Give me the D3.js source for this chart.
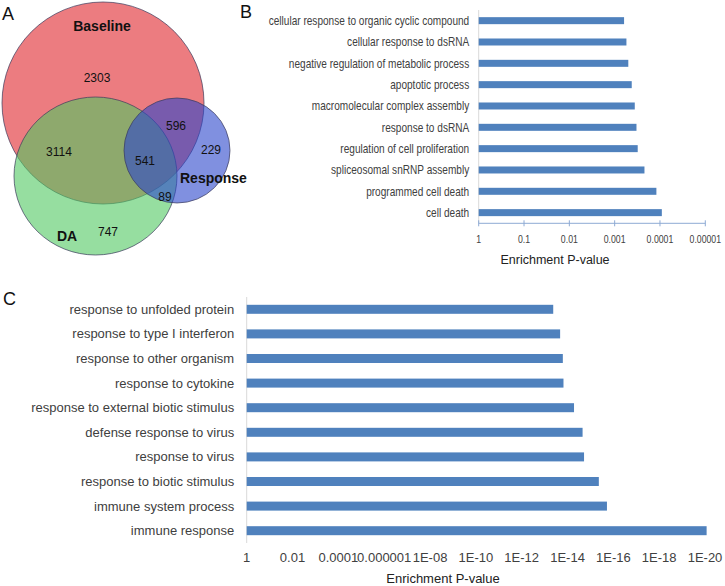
<!DOCTYPE html>
<html>
<head>
<meta charset="utf-8">
<script src="https://cdn.jsdelivr.net/npm/d3@7"></script>
<style>
  body { margin: 0; background: #fff; }
  svg { font-family: "Liberation Sans", Arial, sans-serif; }
</style>
</head>
<body>
<script>
// Venn counts
const vennSets = ["Baseline", "DA", "Response"];
const vennCounts = [
    { region: "Baseline only", value: 2303 },
    { region: "Baseline+DA", value: 3114 },
    { region: "Baseline+Response", value: 596 },
    { region: "Response only", value: 229 },
    { region: "all", value: 541 },
    { region: "DA+Response", value: 89 },
    { region: "DA only", value: 747 }
];

// Panel B terms and p-values
const termsB = [
    "cellular response to organic cyclic compound",
    "cellular response to dsRNA",
    "negative regulation of metabolic process",
    "apoptotic process",
    "macromolecular complex assembly",
    "response to dsRNA",
    "regulation of cell proliferation",
    "spliceosomal snRNP assembly",
    "programmed cell death",
    "cell death"
];
const pValuesB = [6.2e-4, 5.5e-4, 5.0e-4, 4.2e-4, 3.6e-4, 3.3e-4, 3.1e-4, 2.2e-4, 1.2e-4, 9.1e-5];
const ticksB = [1, 0.1, 0.01, 0.001, 0.0001, 0.00001];
const tickLabelsB = ["1", "0.1", "0.01", "0.001", "0.0001", "0.00001"];

// Panel C terms and p-values
const termsC = [
    "response to unfolded protein",
    "response to type I interferon",
    "response to other organism",
    "response to cytokine",
    "response to external biotic stimulus",
    "defense response to virus",
    "response to virus",
    "response to biotic stimulus",
    "immune system process",
    "immune response"
];
const pValuesC = [4.2e-14, 2.1e-14, 1.6e-14, 1.5e-14, 5.2e-15, 2.2e-15, 1.9e-15, 4.3e-16, 1.9e-16, 8.5e-21];
const ticksC = [1, 1e-2, 1e-4, 1e-6, 1e-8, 1e-10, 1e-12, 1e-14, 1e-16, 1e-18, 1e-20];
const tickLabelsC = ["1", "0.01", "0.0001", "0.000001", "1E-08", "1E-10", "1E-12", "1E-14", "1E-16", "1E-18", "1E-20"];

const BAR_COLOR = "#4f81bd";
const TEXT_COLOR = "#404040";

const svg = d3.select("body").append("svg")
    .attr("width", 725)
    .attr("height", 586);

drawVenn();
drawBarPanel({
    terms: termsB, values: pValuesB, ticks: ticksB, tickLabels: tickLabelsB,
    x0: 478.7, x1: 705.3, y0: 10, y1: 223.3, barH: 7, labelGap: 9.5,
    labelSize: 12, squeeze: 0.84, tickSize: 11.5, tickSqueeze: 0.76,
    tickY: 243, titleX: 555, titleY: 264, titleSize: 12.5,
    showXAxis: true
});
drawBarPanel({
    terms: termsC, values: pValuesC, ticks: ticksC, tickLabels: tickLabelsC,
    x0: 246.7, x1: 705, y0: 297, y1: 543, barH: 9, labelGap: 12.5,
    labelSize: 13, squeeze: 1, tickSize: 13, tickSqueeze: 1,
    tickY: 561.5, titleX: 443, titleY: 583, titleSize: 13,
    showXAxis: false
});

// panel letters
svg.selectAll("text.panel")
    .data([["A", 2, 20], ["B", 240, 18], ["C", 3, 305]])
    .enter()
    .append("text")
    .attr("class", "panel")
    .attr("x", (d) => d[1])
    .attr("y", (d) => d[2])
    .attr("font-size", 18)
    .attr("fill", "#111")
    .text((d) => d[0]);

function drawVenn() {
    const g = svg.append("g");
    const shapes = [
        { name: vennSets[0], cx: 103, cy: 103, rx: 101, ry: 101, fill: "rgb(223,37,43)" },
        { name: vennSets[1], cx: 95.5, cy: 176, rx: 81.5, ry: 79, fill: "rgb(80,200,97)" },
        { name: vennSets[2], cx: 177, cy: 150.5, rx: 53, ry: 52.5, fill: "rgb(43,70,203)" }
    ];
    g.selectAll("ellipse")
        .data(shapes)
        .enter()
        .append("ellipse")
        .attr("cx", (d) => d.cx)
        .attr("cy", (d) => d.cy)
        .attr("rx", (d) => d.rx)
        .attr("ry", (d) => d.ry)
        .attr("fill", (d) => d.fill)
        .attr("fill-opacity", 0.6)
        .attr("stroke", "#3a3a5a")
        .attr("stroke-width", 0.7);

    const countPos = [[97, 82], [59, 156], [176, 130], [211, 154], [145, 165], [165, 201], [108, 236]];
    g.selectAll("text.count")
        .data(vennCounts)
        .enter()
        .append("text")
        .attr("class", "count")
        .attr("x", (d, i) => countPos[i][0])
        .attr("y", (d, i) => countPos[i][1])
        .attr("text-anchor", "middle")
        .attr("font-size", 12)
        .attr("fill", "#111")
        .text((d) => d.value);

    const namePos = [[102, 31, "middle"], [67, 241, "middle"], [180, 183, "start"]];
    g.selectAll("text.setname")
        .data(vennSets)
        .enter()
        .append("text")
        .attr("class", "setname")
        .attr("x", (d, i) => namePos[i][0])
        .attr("y", (d, i) => namePos[i][1])
        .attr("text-anchor", (d, i) => namePos[i][2])
        .attr("font-size", 14)
        .attr("font-weight", "bold")
        .attr("fill", "#111")
        .text((d) => d);
}

// place text at (px, py), narrowed horizontally by factor f
function placeText(sel, px, py, f) {
    sel.attr("x", 0).attr("y", 0)
        .attr("transform", (d, i) => `translate(${px(d, i)},${py(d, i)}) scale(${f},1)`);
}

function drawBarPanel(cfg) {
    const g = svg.append("g");
    const x = d3.scaleLog().domain([1, cfg.ticks[cfg.ticks.length - 1]]).range([cfg.x0, cfg.x1]);
    const y = d3.scaleBand().domain(cfg.terms).range([cfg.y0, cfg.y1]);

    // vertical category axis line
    g.append("line")
        .attr("x1", cfg.x0).attr("x2", cfg.x0)
        .attr("y1", cfg.y0).attr("y2", cfg.y1)
        .attr("stroke", "#d9d9d9")
        .attr("stroke-width", 1);

    g.selectAll("rect")
        .data(cfg.terms)
        .enter()
        .append("rect")
        .attr("x", x(1))
        .attr("y", (d) => y(d) + (y.bandwidth() - cfg.barH) / 2)
        .attr("width", (d, i) => x(cfg.values[i]) - x(1))
        .attr("height", cfg.barH)
        .attr("fill", BAR_COLOR);

    const labels = g.selectAll("text.term")
        .data(cfg.terms)
        .enter()
        .append("text")
        .attr("class", "term")
        .attr("dy", "0.35em")
        .attr("text-anchor", "end")
        .attr("font-size", cfg.labelSize)
        .attr("fill", TEXT_COLOR)
        .text((d) => d);
    placeText(labels, () => cfg.x0 - cfg.labelGap, (d) => y(d) + y.bandwidth() / 2, cfg.squeeze);

    if (cfg.showXAxis) {
        g.append("line")
            .attr("x1", cfg.x0).attr("x2", cfg.x1)
            .attr("y1", cfg.y1).attr("y2", cfg.y1)
            .attr("stroke", "#8eaad4")
            .attr("stroke-width", 1);
        g.selectAll("line.tick")
            .data(cfg.ticks)
            .enter()
            .append("line")
            .attr("class", "tick")
            .attr("x1", (d) => x(d)).attr("x2", (d) => x(d))
            .attr("y1", cfg.y1 - 3).attr("y2", cfg.y1 + 3)
            .attr("stroke", "#8eaad4");
    }

    const tl = g.selectAll("text.ticklabel")
        .data(cfg.ticks)
        .enter()
        .append("text")
        .attr("class", "ticklabel")
        .attr("text-anchor", "middle")
        .attr("font-size", cfg.tickSize)
        .attr("fill", TEXT_COLOR)
        .text((d, i) => cfg.tickLabels[i]);
    placeText(tl, (d) => x(d), () => cfg.tickY, cfg.tickSqueeze);

    g.append("text")
        .attr("x", cfg.titleX)
        .attr("y", cfg.titleY)
        .attr("text-anchor", "middle")
        .attr("font-size", cfg.titleSize)
        .attr("fill", "#222")
        .text("Enrichment P-value");
}
</script>
</body>
</html>
